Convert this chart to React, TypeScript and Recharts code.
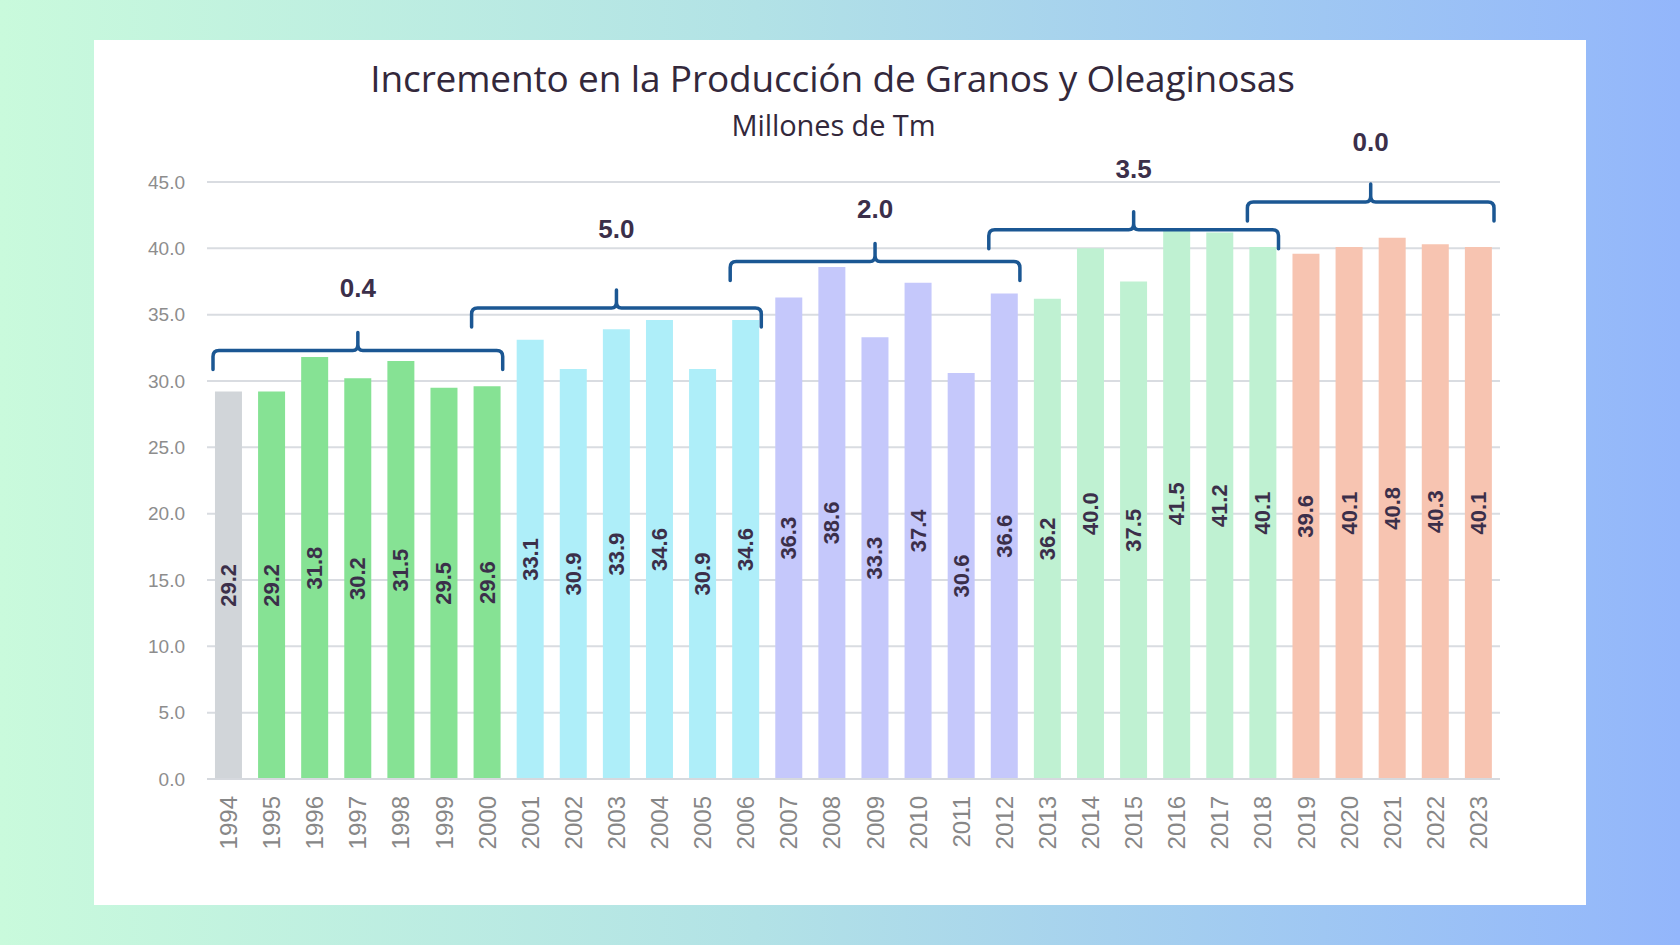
import { Bar, BarChart, CartesianGrid, Cell, LabelList, ReferenceArea, XAxis, YAxis } from 'recharts'

const YEARS = [
  '1994', '1995', '1996', '1997', '1998', '1999', '2000', '2001', '2002', '2003',
  '2004', '2005', '2006', '2007', '2008', '2009', '2010', '2011', '2012', '2013',
  '2014', '2015', '2016', '2017', '2018', '2019', '2020', '2021', '2022', '2023',
]
const PRODUCTION = [
  29.2, 29.2, 31.8, 30.2, 31.5, 29.5, 29.6, 33.1, 30.9, 33.9,
  34.6, 30.9, 34.6, 36.3, 38.6, 33.3, 37.4, 30.6, 36.6, 36.2,
  40.0, 37.5, 41.5, 41.2, 40.1, 39.6, 40.1, 40.8, 40.3, 40.1,
]
const Y_TICKS = [0, 5, 10, 15, 20, 25, 30, 35, 40, 45]

// last year of each colour segment
const SEGMENT_END = [1994, 2000, 2006, 2012, 2018, 2023]
const SEGMENT_COLORS = ['#d1d5d9', '#86e294', '#aeeef9', '#c5c8fb', '#bff1d2', '#f7c4b1']

// braces: start year, end year, level of the brace line and of its label (in Mt)
const PERIOD_START = ['1994', '2000', '2006', '2012', '2018']
const PERIOD_END = ['2000', '2006', '2012', '2018', '2023']
const BRACE_LEVEL = [32.3, 35.5, 39.0, 41.4, 43.5]
const BRACE_LABEL_LEVEL = [36.3, 40.8, 42.3, 45.3, 47.3]

const data = YEARS.map((year, i) => ({ year, value: PRODUCTION[i] }))

const colorFor = (year: string) => {
  const y = Number(year)
  const idx = SEGMENT_END.findIndex((end) => y <= end)
  return SEGMENT_COLORS[idx < 0 ? SEGMENT_COLORS.length - 1 : idx]
}

const delta = (i: number) => {
  const a = PRODUCTION[YEARS.indexOf(PERIOD_START[i])]
  const b = PRODUCTION[YEARS.indexOf(PERIOD_END[i])]
  return Math.abs(b - a).toFixed(1)
}

const LABEL_COLOR = '#3b2f4a'
const BRACE_COLOR = '#1b5793'
const SANS = '"Liberation Sans", Arial, sans-serif'

function YearTick({ x, y, payload }: any) {
  return (
    <text
      x={x}
      y={y}
      transform={`rotate(-90, ${x}, ${y})`}
      textAnchor="end"
      dominantBaseline="central"
      fill="#878787"
      fontSize={24}
      fontFamily={SANS}
    >
      {payload.value}
    </text>
  )
}

function ValueLabel(props: any) {
  const vb = props.viewBox ?? props
  const cx = vb.x + vb.width / 2
  const cy = vb.y + vb.height / 2
  return (
    <text
      x={cx}
      y={cy}
      transform={`rotate(-90, ${cx}, ${cy})`}
      textAnchor="middle"
      dominantBaseline="central"
      fontWeight="bold"
      fontSize={22}
      fontFamily={SANS}
      fill={LABEL_COLOR}
    >
      {Number(vb.value ?? props.value).toFixed(1)}
    </text>
  )
}

function Brace({ x, y, width, height, text }: any) {
  const top = Math.min(y, y + height)
  const lineY = Math.max(y, y + height)
  const left = x + 6
  const right = x + width - 6
  const mid = (left + right) / 2
  const d = [
    `M ${left} ${lineY + 19}`,
    `L ${left} ${lineY + 6}`,
    `Q ${left} ${lineY} ${left + 6} ${lineY}`,
    `L ${mid - 5} ${lineY}`,
    `Q ${mid} ${lineY} ${mid} ${lineY - 6}`,
    `L ${mid} ${lineY - 18}`,
    `L ${mid} ${lineY - 6}`,
    `Q ${mid} ${lineY} ${mid + 5} ${lineY}`,
    `L ${right - 6} ${lineY}`,
    `Q ${right} ${lineY} ${right} ${lineY + 6}`,
    `L ${right} ${lineY + 19}`,
  ].join(' ')
  return (
    <g>
      <path d={d} fill="none" stroke={BRACE_COLOR} strokeWidth={3.5} strokeLinejoin="round" strokeLinecap="round" />
      <text x={mid} y={top} textAnchor="middle" fontWeight="bold" fontSize={26} fontFamily={SANS} fill={LABEL_COLOR}>
        {text}
      </text>
    </g>
  )
}

export default function App() {
  return (
    <div
      style={{
        position: 'absolute',
        left: 0,
        top: 0,
        width: 1680,
        height: 945,
        background: 'linear-gradient(90deg, #c9fadc 0%, #b2e2e6 45%, #93b6fb 100%)',
        overflow: 'hidden',
      }}
    >
      <div style={{ position: 'absolute', left: 94, top: 40, width: 1492, height: 865, background: '#fff' }}>
        <div
          style={{
            position: 'absolute',
            left: 0,
            top: 19,
            width: 1477,
            textAlign: 'center',
            fontFamily: '"Open Sans", sans-serif',
            fontSize: 37,
            lineHeight: '37px',
            color: '#33283b',
            letterSpacing: -0.15,
          }}
        >
          Incremento en la Producción de Granos y Oleaginosas
        </div>
        <div
          style={{
            position: 'absolute',
            left: 0,
            top: 70,
            width: 1479,
            textAlign: 'center',
            fontFamily: '"Open Sans", sans-serif',
            fontSize: 29,
            lineHeight: '29px',
            color: '#33283b',
            letterSpacing: -0.1,
          }}
        >
          Millones de Tm
        </div>
        <div style={{ position: 'absolute', left: 0, top: 0 }}>
          <BarChart
            width={1492}
            height={865}
            data={data}
            margin={{ top: 142, right: 86, left: 0, bottom: 0 }}
            barCategoryGap="18.5%"
          >
            <CartesianGrid vertical={false} stroke="#d9dce1" strokeWidth={2} />
            <XAxis
              dataKey="year"
              interval={0}
              height={126}
              tickLine={false}
              tickSize={0}
              tickMargin={17}
              axisLine={{ stroke: '#d6d9de', strokeWidth: 2 }}
              tick={<YearTick />}
            />
            <YAxis
              domain={[0, 45]}
              ticks={Y_TICKS}
              width={113}
              axisLine={false}
              tickLine={false}
              tickSize={0}
              tickMargin={22}
              tickFormatter={(v: number) => v.toFixed(1)}
              tick={{ fill: '#8d8d8d', fontSize: 19, fontFamily: SANS }}
            />
            <Bar dataKey="value" isAnimationActive={false}>
              {data.map((d) => (
                <Cell key={d.year} fill={colorFor(d.year)} />
              ))}
              <LabelList dataKey="value" content={<ValueLabel />} />
            </Bar>
            {PERIOD_START.map((start, i) => (
              <ReferenceArea
                key={start}
                x1={start}
                x2={PERIOD_END[i]}
                y1={BRACE_LEVEL[i]}
                y2={BRACE_LABEL_LEVEL[i]}
                ifOverflow="visible"
                zIndex={1500}
                shape={(p: any) => <Brace {...p} text={delta(i)} />}
              />
            ))}
          </BarChart>
        </div>
      </div>
    </div>
  )
}
